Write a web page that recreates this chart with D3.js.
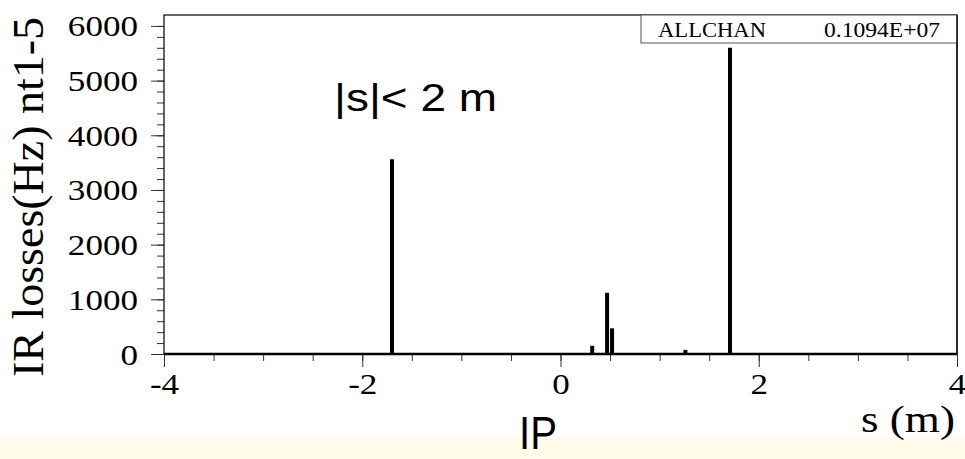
<!DOCTYPE html>
<html>
<head>
<meta charset="utf-8">
<script src="https://cdn.jsdelivr.net/npm/d3@7/dist/d3.min.js"></script>
<style>
  html, body { margin: 0; padding: 0; background: #ffffff; }
  svg { display: block; }
  .serif { font-family: "Liberation Serif", "Times New Roman", Times, serif; }
  .sans { font-family: "Liberation Sans", Arial, Helvetica, sans-serif; }
</style>
</head>
<body>
<svg id="chart" width="965" height="459"></svg>
<script>
// ---- data ----
const binPositions = [-1.70, 0.32, 0.47, 0.52, 1.26, 1.71];   // s (m)
const binValues    = [3560, 150, 1120, 470, 75, 5600];        // IR losses (Hz)
const xTickValues  = [-4, -2, 0, 2, 4];
const yTickValues  = [0, 1000, 2000, 3000, 4000, 5000, 6000];
const xMinorValues = d3.range(-4, 4.001, 0.5);
const yMinorValues = d3.range(0, 6001, 200);
const legendName   = "ALLCHAN";
const legendValue  = "0.1094E+07";
const yTitle       = "IR losses(Hz) nt1-5";
const xTitle       = "s (m)";
const noteText     = "|s|< 2 m";
const ipText       = "IP";

// ---- layout ----
const svg = d3.select("#chart");
const pLeft = 164, pRight = 957, pTop = 15, pBottom = 354;
const x = d3.scaleLinear().domain([-4, 4]).range([pLeft, pRight]);
const y = d3.scaleLinear().domain([0, 6200]).range([pBottom, pTop]);
const sx = 1.17; // horizontal stretch of text in the reference

// bottom cream band
svg.append("rect").attr("x", 0).attr("y", 437).attr("width", 965).attr("height", 22)
  .attr("fill", "#fffdea");

// minor ticks
const yMinor = svg.append("g").attr("transform", `translate(${pLeft},0)`)
  .call(d3.axisLeft(y).tickValues(yMinorValues).tickSize(7).tickFormat(""));
const xMinor = svg.append("g").attr("transform", `translate(0,${pBottom})`)
  .call(d3.axisBottom(x).tickValues(xMinorValues).tickSize(7).tickFormat(""));
[yMinor, xMinor].forEach(g => { g.select(".domain").remove(); g.selectAll("line").attr("stroke", "#333"); });

// major y axis
const yAxis = svg.append("g").attr("transform", `translate(${pLeft},0)`)
  .call(d3.axisLeft(y).tickValues(yTickValues).tickSize(13).tickFormat(d3.format("d")));
yAxis.attr("font-family", null).attr("font-size", null);
yAxis.select(".domain").remove();
yAxis.selectAll("line").attr("stroke", "#333");
yAxis.selectAll("text")
  .attr("x", null).attr("dy", null)
  .attr("class", "serif")
  .attr("transform", `translate(-26,10) scale(${sx},1)`)
  .attr("text-anchor", "end")
  .style("font-size", "30px").attr("fill", "#000");

// major x axis
const xAxis = svg.append("g").attr("transform", `translate(0,${pBottom})`)
  .call(d3.axisBottom(x).tickValues(xTickValues).tickSize(13).tickFormat(d3.format("d")));
xAxis.attr("font-family", null).attr("font-size", null);
xAxis.select(".domain").remove();
xAxis.selectAll("line").attr("stroke", "#333");
xAxis.selectAll("text")
  .attr("y", null).attr("dy", null)
  .attr("class", "serif")
  .attr("transform", `translate(0,40) scale(${sx},1)`)
  .text(d => d < 0 ? "-" + Math.abs(d) : String(d))
  .style("font-size", "30px").attr("fill", "#000");

// frame
svg.append("rect").attr("x", pLeft).attr("y", pTop)
  .attr("width", pRight - pLeft).attr("height", pBottom - pTop)
  .attr("fill", "none").attr("stroke", "#000").attr("stroke-width", 1.2);

// histogram baseline
svg.append("line").attr("x1", pLeft).attr("x2", pRight)
  .attr("y1", y(0)).attr("y2", y(0))
  .attr("stroke", "#000").attr("stroke-width", 2.5);

// bars
svg.append("g").selectAll("line").data(binPositions).join("line")
  .attr("x1", d => x(d)).attr("x2", d => x(d))
  .attr("y1", y(0)).attr("y2", (d, i) => y(binValues[i]))
  .attr("stroke", "#000").attr("stroke-width", 4);

// legend box
svg.append("rect").attr("x", 641).attr("y", pTop).attr("width", pRight - 641).attr("height", 28)
  .attr("fill", "#fff").attr("stroke", "#555").attr("stroke-width", 1);
svg.append("text").attr("class", "serif").attr("x", 658).attr("y", 37).text(legendName)
  .style("font-size", "20px")
  .attr("textLength", 108).attr("lengthAdjust", "spacingAndGlyphs");
svg.append("text").attr("class", "serif").attr("x", 824).attr("y", 37).text(legendValue)
  .style("font-size", "20px")
  .attr("textLength", 116).attr("lengthAdjust", "spacingAndGlyphs");
// redraw right frame edge over legend
svg.append("line").attr("x1", pRight).attr("x2", pRight).attr("y1", pTop).attr("y2", pBottom)
  .attr("stroke", "#000").attr("stroke-width", 1.2);

// y title
svg.append("text").attr("class", "serif")
  .attr("transform", `translate(43,197) scale(${sx},1) rotate(-90)`)
  .attr("text-anchor", "middle")
  .text(yTitle)
  .style("font-size", "37px")
  .attr("textLength", 360).attr("lengthAdjust", "spacingAndGlyphs");

// x title
svg.append("text").attr("class", "serif").attr("x", 955).attr("y", 432).attr("text-anchor", "end")
  .text(xTitle)
  .style("font-size", "38px")
  .attr("textLength", 94).attr("lengthAdjust", "spacingAndGlyphs");

// annotation
svg.append("text").attr("class", "sans").attr("x", 334).attr("y", 111).text(noteText)
  .style("font-size", "39px")
  .attr("textLength", 163).attr("lengthAdjust", "spacingAndGlyphs");

// IP label
svg.append("text").attr("class", "sans").attr("x", 519).attr("y", 449).text(ipText)
  .style("font-size", "46px")
  .attr("textLength", 38).attr("lengthAdjust", "spacingAndGlyphs");
</script>
</body>
</html>
